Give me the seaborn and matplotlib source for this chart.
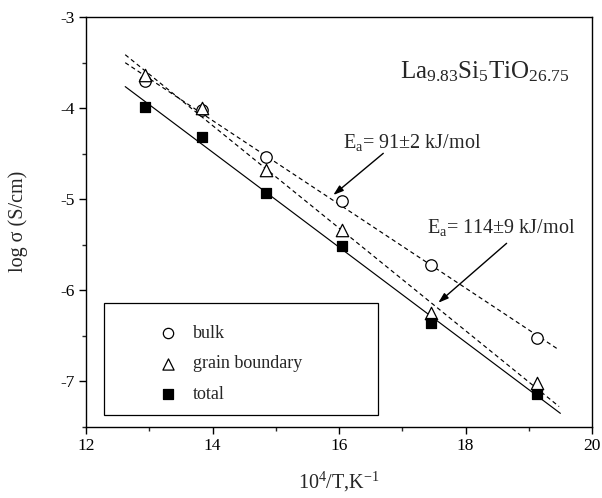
import numpy as np
import pandas as pd
import matplotlib
matplotlib.use("Agg")
import matplotlib.pyplot as plt
from matplotlib.patches import Rectangle
from matplotlib.ticker import MultipleLocator
import seaborn as sns

# ---- data ----
inv_T = [12.93, 13.83, 14.85, 16.05, 17.46, 19.13]
bulk = [-3.70, -4.02, -4.54, -5.02, -5.73, -6.53]
grain_boundary = [-3.64, -4.00, -4.68, -5.34, -6.25, -7.02]
total = [-3.99, -4.32, -4.93, -5.52, -6.36, -7.14]
series_labels = ["bulk", "grain boundary", "total"]
formula = r"La$_\mathregular{9.83}$Si$_\mathregular{5}$TiO$_\mathregular{26.75}$"
ea_bulk = r"E$_\mathregular{a}$= 91±2 kJ/mol"
ea_gb = r"E$_\mathregular{a}$= 114±9 kJ/mol"
x_ticks = [12, 14, 16, 18, 20]
y_ticks = [-7, -6, -5, -4, -3]

sns.set_style("ticks")
plt.rcParams["font.family"] = ["Liberation Serif", "DejaVu Serif"]
plt.rcParams["mathtext.fontset"] = "custom"
plt.rcParams["mathtext.rm"] = "Liberation Serif"
plt.rcParams["mathtext.it"] = "Liberation Serif:italic"
plt.rcParams["axes.unicode_minus"] = False

fig = plt.figure(figsize=(6.02, 4.98), dpi=100)
ax = fig.add_axes([86 / 602, 1 - 426.5 / 498, 506 / 602, 409.5 / 498])

df = pd.DataFrame({"x": inv_T, "bulk": bulk, "gb": grain_boundary, "total": total})

# fitted lines
fit_specs = [("bulk", (0, (3.6, 2.7)), 19.48),
             ("gb", (0, (3.6, 2.7)), 19.48),
             ("total", "-", 19.5)]
for col, ls, xend in fit_specs:
    k, b = np.polyfit(df["x"], df[col], 1)
    xx = np.array([12.62, xend])
    sns.lineplot(x=xx, y=k * xx + b, ax=ax, color="black", lw=0.85,
                 linestyle=ls, zorder=2)

# markers
sns.scatterplot(data=df, x="x", y="bulk", ax=ax, marker="o", s=68,
                facecolor="white", edgecolor="black", linewidth=0.9,
                label=series_labels[0], zorder=3)
sns.scatterplot(data=df, x="x", y="gb", ax=ax, marker="^", s=80,
                facecolor="white", edgecolor="black", linewidth=0.9,
                label=series_labels[1], zorder=3)
sns.scatterplot(data=df, x="x", y="total", ax=ax, marker="s", s=52,
                facecolor="black", edgecolor="black", linewidth=0.9,
                label=series_labels[2], zorder=4)

ax.set_xlim(12, 20)
ax.set_ylim(-7.5, -3)
ax.set_xticks(x_ticks)
ax.set_yticks(y_ticks)
ax.xaxis.set_minor_locator(MultipleLocator(1))
ax.yaxis.set_minor_locator(MultipleLocator(0.5))
ax.tick_params(which="major", direction="out", length=5, width=1,
               labelsize=12.5, pad=3, colors="black")
ax.tick_params(which="minor", direction="out", length=3, width=1)
for s in ax.spines.values():
    s.set_visible(True)
    s.set_linewidth(1)
    s.set_color("black")

ax.set_xlabel(r"10$^\mathregular{4}$/T,K$^\mathregular{-1}$", fontsize=14.5, labelpad=12)
ax.set_ylabel("log σ (S/cm)", fontsize=14.5, labelpad=23)

# annotations
ax.text(16.96, -3.674, formula, fontsize=18, ha="left", va="baseline")
ax.text(16.07, -4.443, ea_bulk, fontsize=14.5, ha="left", va="baseline")
ax.text(17.39, -5.377, ea_gb, fontsize=14.5, ha="left", va="baseline")
arrow = dict(arrowstyle="-|>,head_length=0.6,head_width=0.2", color="black", lw=1,
             shrinkA=0, shrinkB=0)
ax.annotate("", xy=(15.91, -4.956), xytext=(16.70, -4.498), arrowprops=arrow)
ax.annotate("", xy=(17.57, -6.14), xytext=(18.65, -5.487), arrowprops=arrow)

# legend box + legend
ax.add_patch(Rectangle((0.0356, 0.0273), 0.5421, 0.2736, transform=ax.transAxes,
                       facecolor="white", edgecolor="black", lw=0.9, zorder=5))
leg = ax.legend(loc="upper left", bbox_to_anchor=(0.1449, 0.2485), frameon=False,
                fontsize=13, borderpad=0, borderaxespad=0, handlelength=1.0,
                handletextpad=0.88, labelspacing=0.76, markerscale=0.9)
leg.set_zorder(6)

fig.savefig("out.png", dpi=100)
